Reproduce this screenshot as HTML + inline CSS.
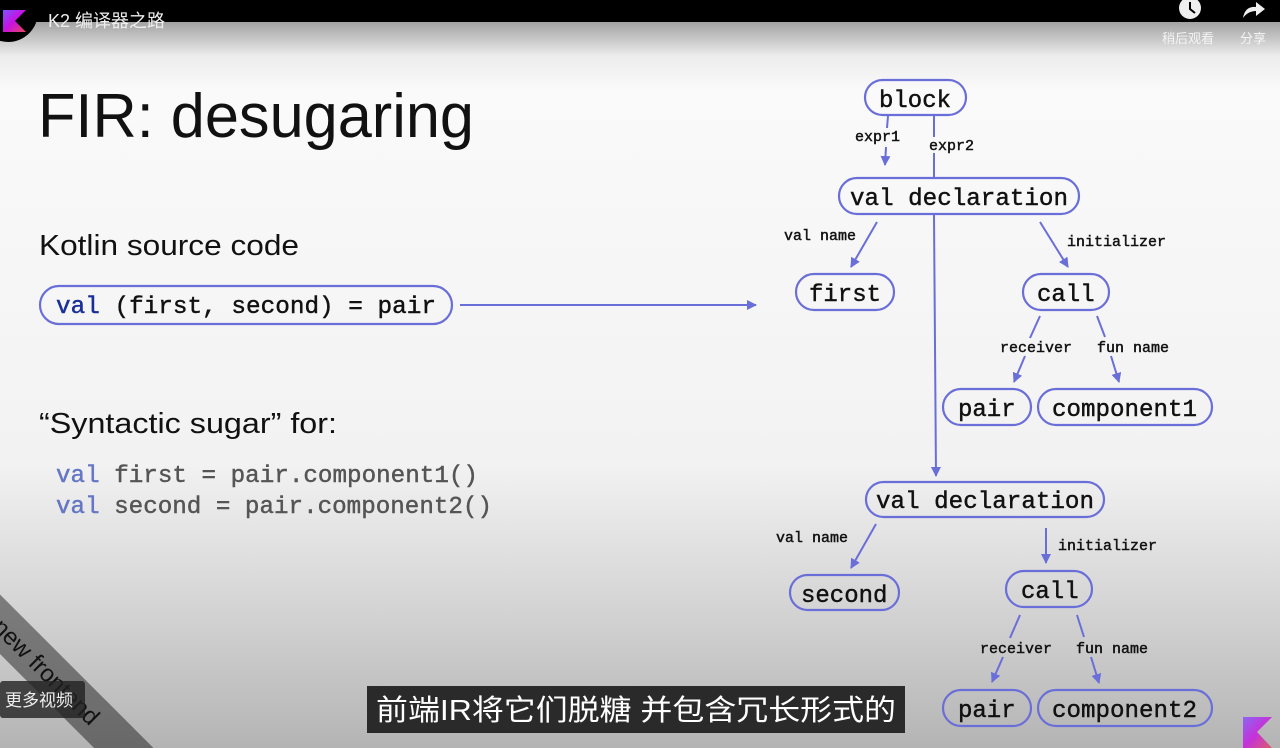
<!DOCTYPE html>
<html><head><meta charset="utf-8"><style>
html,body{margin:0;padding:0;width:1280px;height:748px;overflow:hidden}
svg{display:block}
.m{font-family:"Liberation Mono",monospace;fill:#111;stroke:#111;stroke-width:0.45}
.s{font-family:"Liberation Sans",sans-serif;fill:#111}
.n{fill:none;stroke:#6a6ed8;stroke-width:2.2}
.e{stroke:#6a6ed8;stroke-width:2;fill:none}
.cj{font-family:"Liberation Sans","Noto Sans CJK SC",sans-serif}
</style></head><body>
<svg width="1280" height="748" viewBox="0 0 1280 748" xmlns="http://www.w3.org/2000/svg">
<defs>
<linearGradient id="bg" x1="0" y1="0" x2="0" y2="1">
<stop offset="0" stop-color="#999"/>
<stop offset="0.03" stop-color="#a4a4a4"/>
<stop offset="0.075" stop-color="#ececec"/>
<stop offset="0.12" stop-color="#fafafa"/>
<stop offset="0.62" stop-color="#f2f2f2"/>
<stop offset="0.8" stop-color="#d6d6d6"/>
<stop offset="1" stop-color="#b4b4b4"/>
</linearGradient>
<linearGradient id="kg" x1="0" y1="0" x2="1" y2="1">
<stop offset="0" stop-color="#7f52ff"/><stop offset="0.5" stop-color="#c811e1"/><stop offset="1" stop-color="#e54857"/>
</linearGradient>
<marker id="a" viewBox="0 0 10 10" refX="9" refY="5" markerWidth="5" markerHeight="5" orient="auto"><path d="M0,0 L10,5 L0,10 z" fill="#6a6ed8"/></marker>
</defs>
<rect x="0" y="0" width="1280" height="748" fill="url(#bg)"/>
<rect x="0" y="0" width="1280" height="22" fill="#000"/>
<circle cx="8" cy="12" r="30" fill="#000"/>
<path d="M3,10 L26,10 L15,21 L26,32 L3,32 z" fill="url(#kg)"/>
<text x="48" y="27" class="cj" font-size="18" fill="#eee">K2 编译器之路</text>
<circle cx="1190" cy="8" r="11" fill="#eee"/><path d="M1190,2 L1190,9 L1195,13" stroke="#000" stroke-width="2" fill="none"/>
<path d="M1243,18 Q1245,6 1256,7 L1256,2 L1265,9 L1256,16 L1256,11 Q1248,11 1243,18z" fill="#eee"/>
<text x="1162" y="43" class="cj" font-size="13" fill="#f4f4f4">稍后观看</text>
<text x="1240" y="43" class="cj" font-size="13" fill="#f4f4f4">分享</text>

<text x="38" y="137" class="s" font-size="62" textLength="436" lengthAdjust="spacingAndGlyphs">FIR: desugaring</text>
<text x="39" y="255" class="s" font-size="29" textLength="260" lengthAdjust="spacingAndGlyphs">Kotlin source code</text>
<text x="39" y="433" class="s" font-size="29" textLength="298" lengthAdjust="spacingAndGlyphs">“Syntactic sugar” for:</text>

<rect x="40" y="286" width="412" height="38" rx="19" class="n"/>
<text x="56" y="313" class="m" font-size="24" textLength="380" lengthAdjust="spacingAndGlyphs"><tspan fill="#1a2f99" stroke="#1a2f99">val</tspan> (first, second) = pair</text>
<line x1="460" y1="305" x2="756" y2="305" class="e" marker-end="url(#a)"/>
<text x="56" y="482" class="m" font-size="24" textLength="422" lengthAdjust="spacingAndGlyphs"><tspan fill="#6576c4" stroke="#6576c4">val</tspan><tspan fill="#555" stroke="#555"> first = pair.component1()</tspan></text>
<text x="56" y="513" class="m" font-size="24" textLength="436" lengthAdjust="spacingAndGlyphs"><tspan fill="#6576c4" stroke="#6576c4">val</tspan><tspan fill="#555" stroke="#555"> second = pair.component2()</tspan></text>

<g>
<rect x="865" y="80" width="101" height="35" rx="17.5" class="n"/><text x="879" y="107" class="m" font-size="24">block</text>
<rect x="839" y="178" width="240" height="36" rx="18" class="n"/><text x="850" y="205" class="m" font-size="24" textLength="218" lengthAdjust="spacingAndGlyphs">val declaration</text>
<rect x="796" y="274" width="98" height="36" rx="18" class="n"/><text x="809" y="301" class="m" font-size="24">first</text>
<rect x="1023" y="274" width="86" height="36" rx="18" class="n"/><text x="1037" y="301" class="m" font-size="24">call</text>
<rect x="943" y="389" width="88" height="36" rx="18" class="n"/><text x="958" y="416" class="m" font-size="24">pair</text>
<rect x="1038" y="389" width="174" height="36" rx="18" class="n"/><text x="1052" y="416" class="m" font-size="24" textLength="145" lengthAdjust="spacingAndGlyphs">component1</text>
<rect x="866" y="482" width="238" height="35" rx="17.5" class="n"/><text x="876" y="508" class="m" font-size="24" textLength="218" lengthAdjust="spacingAndGlyphs">val declaration</text>
<rect x="790" y="575" width="109" height="35" rx="17.5" class="n"/><text x="801" y="602" class="m" font-size="24">second</text>
<rect x="1006" y="571" width="86" height="36" rx="18" class="n"/><text x="1021" y="598" class="m" font-size="24">call</text>
<rect x="943" y="690" width="88" height="36" rx="18" class="n"/><text x="958" y="717" class="m" font-size="24">pair</text>
<rect x="1038" y="690" width="174" height="36" rx="18" class="n"/><text x="1052" y="717" class="m" font-size="24" textLength="145" lengthAdjust="spacingAndGlyphs">component2</text>
</g>
<g>
<line x1="888" y1="116" x2="887" y2="128" class="e"/><line x1="886" y1="147" x2="885" y2="165" class="e" marker-end="url(#a)"/>
<text x="855" y="141" class="m" font-size="15" stroke-width="0.3">expr1</text>
<line x1="934" y1="116" x2="934" y2="137" class="e"/><line x1="934" y1="153" x2="934" y2="178" class="e"/>
<text x="929" y="150" class="m" font-size="15" stroke-width="0.3">expr2</text>
<line x1="934" y1="215" x2="936" y2="476" class="e" marker-end="url(#a)"/>
<line x1="877" y1="222" x2="851" y2="267" class="e" marker-end="url(#a)"/>
<text x="784" y="240" class="m" font-size="15" stroke-width="0.3">val name</text>
<line x1="1040" y1="222" x2="1068" y2="267" class="e" marker-end="url(#a)"/>
<text x="1067" y="246" class="m" font-size="15" stroke-width="0.3">initializer</text>
<line x1="1040" y1="316" x2="1030" y2="338" class="e"/><line x1="1025" y1="356" x2="1014" y2="382" class="e" marker-end="url(#a)"/>
<text x="1000" y="352" class="m" font-size="15" stroke-width="0.3">receiver</text>
<line x1="1097" y1="316" x2="1105" y2="337" class="e"/><line x1="1111" y1="356" x2="1119" y2="382" class="e" marker-end="url(#a)"/>
<text x="1097" y="352" class="m" font-size="15" stroke-width="0.3">fun name</text>
<line x1="876" y1="524" x2="851" y2="568" class="e" marker-end="url(#a)"/>
<text x="776" y="542" class="m" font-size="15" stroke-width="0.3">val name</text>
<line x1="1046" y1="528" x2="1046" y2="563" class="e" marker-end="url(#a)"/>
<text x="1058" y="550" class="m" font-size="15" stroke-width="0.3">initializer</text>
<line x1="1020" y1="615" x2="1010" y2="638" class="e"/><line x1="1003" y1="657" x2="992" y2="682" class="e" marker-end="url(#a)"/>
<text x="980" y="653" class="m" font-size="15" stroke-width="0.3">receiver</text>
<line x1="1077" y1="615" x2="1084" y2="637" class="e"/><line x1="1091" y1="657" x2="1099" y2="683" class="e" marker-end="url(#a)"/>
<text x="1076" y="653" class="m" font-size="15" stroke-width="0.3">fun name</text>
</g>

<g transform="translate(0,620) rotate(45)">
<rect x="-20" y="-18" width="220" height="42" fill="#000" opacity="0.42"/>
<text x="0" y="12" class="s" font-size="24" fill="#111">new frontend</text>
</g>
<rect x="0" y="681" width="85" height="37" rx="3" fill="#222" opacity="0.8"/>
<text x="5" y="706" class="cj" font-size="17" fill="#eee">更多视频</text>

<rect x="367" y="686" width="538" height="47" fill="#222" opacity="0.95"/>
<text x="376" y="720" class="cj" font-size="29" fill="#fff" textLength="520" lengthAdjust="spacingAndGlyphs">前端IR将它们脱糖 并包含冗长形式的</text>
<path d="M1243,717 L1272,717 L1257,732 L1272,748 L1243,748z" fill="url(#kg)" opacity="0.8"/>
</svg>
</body></html>
